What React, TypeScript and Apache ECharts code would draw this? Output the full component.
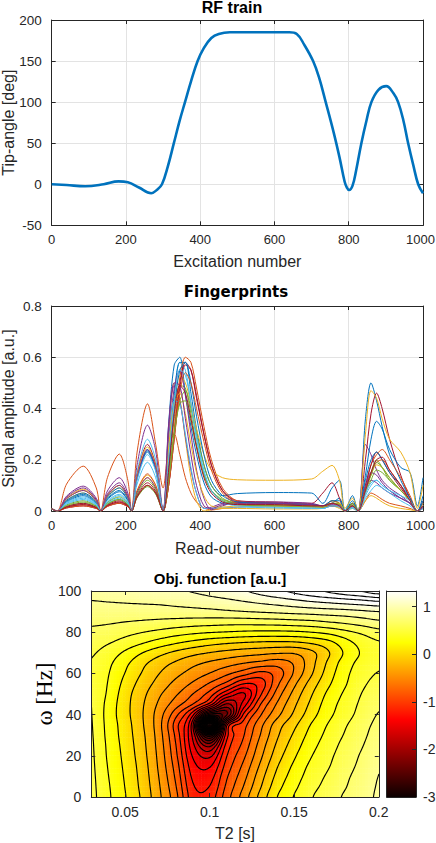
import React, { useEffect, useRef } from "react";
import * as echarts from "echarts";

const FONT = "'Liberation Sans', Arial, Helvetica, sans-serif";
const TXT = "#262626";
const MATLAB_COLORS = ["#0072BD", "#D95319", "#EDB120", "#7E2F8E", "#77AC30", "#4DBEEE", "#A2142F"];

// ---------------- Panel 1: RF train ----------------
const RF_X = [0, 40, 90, 140, 180, 205, 235, 268, 283, 297, 313, 329, 345, 359, 375, 393, 410, 430, 450, 480, 560, 640, 660, 680, 704, 720, 738, 760, 775, 789, 795, 801, 810, 820, 834, 848, 861, 880, 901, 920, 933, 947, 960, 974, 987, 1000];
const RF_Y = [0, -1, -2.5, 0, 3.5, 2.5, -4, -11, -7, 0, 22, 50, 78, 100, 125, 150, 166, 178, 183, 185, 185, 185, 183, 170, 150, 130, 100, 62, 33, 3, -4, -7, -2, 17, 50, 78, 100, 115, 119.5, 111, 100, 78, 50, 23, 0, -11];

// ---------------- Panel 2: Fingerprints ----------------
const FP_X = [0, 15, 40, 85, 120, 132, 150, 182, 205, 215, 230, 258, 280, 300, 315, 330, 345, 360, 375, 390, 410, 430, 460, 500, 600, 700, 730, 755, 775, 790, 810, 825, 845, 860, 875, 890, 910, 940, 965, 985, 1000];
const FP_01 = [0.008, 0, 0.036, 0.06, 0.03, 0, 0.045, 0.075, 0.041, 0, 0.13, 0.235, 0.165, 0, 0.34, 0.57, 0.6, 0.46, 0.33, 0.22, 0.11, 0.055, 0.03, 0.025, 0.02, 0.015, 0.01, 0.03, 0.05, 0, 0.03, 0, 0.36, 0.5, 0.43, 0.33, 0.22, 0.12, 0.05, 0, 0.06];
const FP_02 = [0.01, 0, 0.105, 0.175, 0.09, 0, 0.13, 0.222, 0.12, 0, 0.23, 0.418, 0.26, 0.09, 0.25, 0.3, 0.22, 0.13, 0.07, 0.035, 0.012, 0.004, 0.01, 0.015, 0.02, 0.02, 0.015, 0.02, 0.015, 0, 0.02, 0, 0.04, 0.07, 0.06, 0.045, 0.03, 0.02, 0.01, 0, 0.02];
const FP_03 = [0.008, 0, 0.05, 0.085, 0.043, 0, 0.06, 0.1, 0.055, 0, 0.077, 0.14, 0.1, 0, 0.3, 0.5, 0.44, 0.28, 0.13, 0.04, 0, 0.005, 0.01, 0.01, 0.008, 0.008, 0.01, 0.02, 0.01, 0, 0.01, 0, 0.04, 0.06, 0.05, 0.035, 0.02, 0.01, 0.005, 0, 0.01];
const FP_04 = [0.01, 0, 0.058, 0.097, 0.05, 0, 0.078, 0.13, 0.07, 0, 0.18, 0.335, 0.235, 0, 0.34, 0.49, 0.43, 0.29, 0.16, 0.07, 0.01, 0.015, 0.03, 0.035, 0.03, 0.02, 0.015, 0.02, 0.02, 0, 0.015, 0, 0.26, 0.22, 0.16, 0.12, 0.09, 0.06, 0.03, 0, 0.02];
const FP_05 = [0.008, 0, 0.018, 0.03, 0.015, 0, 0.027, 0.045, 0.025, 0, 0.055, 0.1, 0.07, 0, 0.15, 0.36, 0.49, 0.48, 0.38, 0.26, 0.14, 0.08, 0.045, 0.03, 0.025, 0.02, 0.015, 0.04, 0.03, 0, 0.03, 0, 0.08, 0.15, 0.2, 0.17, 0.12, 0.08, 0.04, 0, 0.03];
const FP_06 = [0.008, 0, 0.03, 0.05, 0.025, 0, 0.036, 0.06, 0.033, 0, 0.155, 0.28, 0.2, 0, 0.2, 0.45, 0.58, 0.55, 0.42, 0.28, 0.15, 0.08, 0.04, 0.025, 0.02, 0.02, 0.01, 0.02, 0.02, 0, 0.02, 0, 0.06, 0.1, 0.12, 0.1, 0.08, 0.05, 0.03, 0, 0.02];
const FP_07 = [0.008, 0, 0.012, 0.02, 0.01, 0, 0.018, 0.03, 0.017, 0, 0.143, 0.26, 0.18, 0, 0.1, 0.3, 0.5, 0.58, 0.55, 0.44, 0.3, 0.18, 0.08, 0.04, 0.035, 0.03, 0.07, 0.11, 0.05, 0, 0.03, 0, 0.2, 0.38, 0.46, 0.4, 0.28, 0.14, 0.05, 0, 0.04];
const FP_08 = [0.008, 0, 0.039, 0.065, 0.033, 0, 0.048, 0.08, 0.044, 0, 0.13, 0.24, 0.17, 0, 0.22, 0.45, 0.58, 0.58, 0.46, 0.32, 0.18, 0.1, 0.06, 0.068, 0.072, 0.07, 0.03, 0.09, 0.12, 0, 0.06, 0, 0.14, 0.28, 0.35, 0.32, 0.24, 0.17, 0.15, 0.02, 0.13];
const FP_09 = [0.008, 0, 0.015, 0.025, 0.013, 0, 0.021, 0.035, 0.02, 0, 0.08, 0.145, 0.1, 0, 0.12, 0.32, 0.52, 0.6, 0.58, 0.48, 0.33, 0.2, 0.09, 0.04, 0.03, 0.025, 0.02, 0.04, 0.03, 0, 0.02, 0, 0.1, 0.18, 0.22, 0.24, 0.2, 0.13, 0.06, 0, 0.03];
const FP_10 = [0.008, 0, 0.042, 0.07, 0.036, 0, 0.054, 0.09, 0.05, 0, 0.072, 0.13, 0.09, 0, 0.2, 0.42, 0.53, 0.5, 0.42, 0.32, 0.22, 0.16, 0.13, 0.122, 0.12, 0.125, 0.155, 0.178, 0.12, 0.01, 0.05, 0, 0.3, 0.47, 0.44, 0.36, 0.28, 0.23, 0.15, 0.01, 0.1];
const FP_11 = [0.008, 0, 0.054, 0.09, 0.045, 0, 0.066, 0.11, 0.06, 0, 0.072, 0.13, 0.09, 0, 0.28, 0.48, 0.55, 0.45, 0.3, 0.16, 0.05, 0.005, 0.02, 0.035, 0.035, 0.03, 0.02, 0.03, 0.025, 0, 0.02, 0, 0.08, 0.12, 0.11, 0.09, 0.07, 0.05, 0.03, 0, 0.01];
const FP_12 = [0.008, 0, 0.024, 0.04, 0.02, 0, 0.033, 0.055, 0.03, 0, 0.066, 0.12, 0.084, 0, 0.12, 0.3, 0.43, 0.47, 0.4, 0.3, 0.18, 0.1, 0.05, 0.03, 0.02, 0.018, 0.015, 0.03, 0.03, 0, 0.03, 0, 0.07, 0.12, 0.16, 0.15, 0.12, 0.08, 0.04, 0, 0.02];
const FP_13 = [0.008, 0, 0.027, 0.045, 0.023, 0, 0.03, 0.05, 0.028, 0, 0.105, 0.19, 0.13, 0, 0.25, 0.43, 0.42, 0.3, 0.17, 0.07, 0.01, 0.01, 0.015, 0.015, 0.012, 0.01, 0.01, 0.02, 0.015, 0, 0.01, 0, 0.05, 0.08, 0.1, 0.09, 0.07, 0.04, 0.02, 0, 0.01];
const FP_14 = [0.008, 0, 0.018, 0.03, 0.015, 0, 0.024, 0.04, 0.022, 0, 0.06, 0.11, 0.077, 0, 0.1, 0.28, 0.48, 0.57, 0.55, 0.45, 0.3, 0.18, 0.08, 0.035, 0.03, 0.025, 0.02, 0.03, 0.02, 0, 0.02, 0, 0.1, 0.18, 0.23, 0.2, 0.15, 0.09, 0.04, 0, 0.02];
const FP_15 = [0.008, 0, 0.042, 0.07, 0.036, 0, 0.054, 0.09, 0.05, 0, 0.126, 0.23, 0.16, 0, 0.18, 0.4, 0.55, 0.58, 0.5, 0.37, 0.22, 0.12, 0.06, 0.035, 0.03, 0.025, 0.02, 0.04, 0.04, 0, 0.04, 0, 0.12, 0.2, 0.23, 0.2, 0.15, 0.1, 0.05, 0, 0.04];
const FP_16 = [0.008, 0, 0.012, 0.02, 0.01, 0, 0.018, 0.03, 0.017, 0, 0.055, 0.1, 0.07, 0, 0.1, 0.28, 0.46, 0.54, 0.5, 0.4, 0.27, 0.16, 0.07, 0.03, 0.02, 0.02, 0.015, 0.02, 0.02, 0, 0.02, 0, 0.09, 0.15, 0.19, 0.2, 0.16, 0.1, 0.04, 0, 0.02];
const FP_17 = [0.008, 0, 0.048, 0.08, 0.04, 0, 0.06, 0.1, 0.055, 0, 0.138, 0.25, 0.175, 0, 0.25, 0.42, 0.46, 0.38, 0.26, 0.15, 0.06, 0.02, 0.015, 0.02, 0.018, 0.015, 0.015, 0.03, 0.03, 0, 0.02, 0, 0.08, 0.14, 0.18, 0.17, 0.13, 0.08, 0.04, 0, 0.02];
const FP_18 = [0.008, 0, 0.048, 0.08, 0.04, 0, 0.06, 0.1, 0.055, 0, 0.132, 0.24, 0.17, 0, 0.32, 0.5, 0.49, 0.36, 0.22, 0.1, 0.02, 0.01, 0.025, 0.03, 0.03, 0.025, 0.02, 0.025, 0.02, 0, 0.02, 0, 0.09, 0.15, 0.14, 0.11, 0.08, 0.05, 0.03, 0, 0.015];
const FP_19 = [0.008, 0, 0.021, 0.035, 0.018, 0, 0.027, 0.045, 0.025, 0, 0.052, 0.095, 0.066, 0, 0.12, 0.3, 0.42, 0.43, 0.35, 0.25, 0.14, 0.08, 0.04, 0.025, 0.02, 0.018, 0.015, 0.03, 0.025, 0, 0.025, 0, 0.08, 0.14, 0.19, 0.17, 0.13, 0.08, 0.04, 0, 0.02];
const FP_20 = [0.008, 0, 0.033, 0.055, 0.028, 0, 0.04, 0.065, 0.036, 0, 0.12, 0.22, 0.155, 0, 0.2, 0.42, 0.55, 0.53, 0.42, 0.29, 0.16, 0.08, 0.035, 0.02, 0.015, 0.012, 0.01, 0.02, 0.02, 0, 0.015, 0, 0.07, 0.11, 0.12, 0.1, 0.08, 0.06, 0.04, 0, 0.02];
const FP_21 = [0.008, 0, 0.015, 0.025, 0.013, 0, 0.021, 0.035, 0.02, 0, 0.055, 0.1, 0.07, 0, 0.16, 0.38, 0.49, 0.46, 0.36, 0.25, 0.13, 0.07, 0.035, 0.025, 0.025, 0.02, 0.02, 0.03, 0.02, 0, 0.02, 0, 0.08, 0.15, 0.2, 0.21, 0.16, 0.1, 0.04, 0, 0.02];
const FINGERPRINTS = [FP_01, FP_02, FP_03, FP_04, FP_05, FP_06, FP_07, FP_08, FP_09, FP_10, FP_11, FP_12, FP_13, FP_14, FP_15, FP_16, FP_17, FP_18, FP_19, FP_20, FP_21];

// ---------------- Panel 3: objective function ----------------
const T2_VALUES = [0.03, 0.04, 0.05, 0.06, 0.07, 0.08, 0.09, 0.1, 0.11, 0.12, 0.13, 0.14, 0.15, 0.16, 0.17, 0.18, 0.19, 0.2];
const OMEGA_VALUES = [0, 5, 10, 15, 20, 25, 30, 35, 40, 45, 50, 55, 60, 65, 70, 75, 80, 85, 90, 95, 100];
const OBJ_W000 = [0.57, 0.38, 0.185, -0.03, -0.31, -0.645, -1.15, -1.15, -0.78, -0.45, -0.12, 0.175, 0.36, 0.51, 0.62, 0.72, 0.8, 0.9];
const OBJ_W005 = [0.565, 0.37, 0.17, -0.05, -0.33, -0.69, -1.2, -1.22, -0.84, -0.52, -0.19, 0.11, 0.31, 0.47, 0.58, 0.69, 0.78, 0.89];
const OBJ_W010 = [0.56, 0.355, 0.155, -0.065, -0.355, -0.735, -1.26, -1.3, -0.9, -0.59, -0.25, 0.05, 0.26, 0.43, 0.55, 0.67, 0.76, 0.878];
const OBJ_W015 = [0.555, 0.34, 0.14, -0.08, -0.38, -0.78, -1.33, -1.42, -0.98, -0.66, -0.32, -0.01, 0.21, 0.39, 0.51, 0.64, 0.74, 0.86];
const OBJ_W020 = [0.55, 0.325, 0.125, -0.1, -0.4, -0.83, -1.42, -1.62, -1.06, -0.74, -0.39, -0.08, 0.15, 0.34, 0.48, 0.61, 0.72, 0.83];
const OBJ_W025 = [0.545, 0.315, 0.11, -0.115, -0.42, -0.87, -1.52, -1.98, -1.16, -0.82, -0.45, -0.14, 0.09, 0.29, 0.44, 0.58, 0.69, 0.8];
const OBJ_W030 = [0.54, 0.3, 0.095, -0.13, -0.44, -0.92, -1.62, -2.75, -1.3, -0.89, -0.52, -0.2, 0.03, 0.24, 0.4, 0.54, 0.66, 0.77];
const OBJ_W035 = [0.535, 0.29, 0.085, -0.15, -0.46, -0.97, -1.7, -4.2, -1.45, -0.96, -0.58, -0.26, -0.04, 0.185, 0.36, 0.505, 0.635, 0.74];
const OBJ_W040 = [0.53, 0.28, 0.065, -0.16, -0.44, -0.82, -1.35, -2.5, -2.3, -1.2, -0.72, -0.4, -0.14, 0.1, 0.3, 0.45, 0.59, 0.71];
const OBJ_W045 = [0.525, 0.29, 0.065, -0.15, -0.38, -0.62, -0.88, -1.3, -1.95, -1.5, -0.88, -0.5, -0.21, 0.04, 0.26, 0.42, 0.56, 0.67];
const OBJ_W050 = [0.515, 0.32, 0.08, -0.12, -0.32, -0.5, -0.7, -0.95, -1.38, -1.6, -1.08, -0.62, -0.29, -0.02, 0.21, 0.38, 0.53, 0.625];
const OBJ_W055 = [0.505, 0.34, 0.12, -0.07, -0.24, -0.4, -0.55, -0.72, -0.93, -1.22, -1.15, -0.74, -0.39, -0.1, 0.14, 0.33, 0.49, 0.58];
const OBJ_W060 = [0.505, 0.36, 0.17, -0.01, -0.17, -0.3, -0.42, -0.53, -0.66, -0.8, -0.93, -0.8, -0.5, -0.2, 0.08, 0.3, 0.45, 0.535];
const OBJ_W065 = [0.515, 0.39, 0.22, 0.05, -0.09, -0.2, -0.3, -0.38, -0.45, -0.52, -0.58, -0.62, -0.5, -0.24, 0.03, 0.26, 0.41, 0.49];
const OBJ_W070 = [0.545, 0.45, 0.32, 0.18, 0.06, -0.04, -0.12, -0.18, -0.23, -0.27, -0.3, -0.33, -0.33, -0.22, -0.02, 0.2, 0.37, 0.47];
const OBJ_W075 = [0.6, 0.54, 0.46, 0.37, 0.28, 0.2, 0.13, 0.07, 0.03, 0.0, -0.02, -0.03, -0.02, 0.03, 0.12, 0.28, 0.42, 0.51];
const OBJ_W080 = [0.66, 0.63, 0.58, 0.53, 0.48, 0.43, 0.39, 0.36, 0.34, 0.32, 0.31, 0.31, 0.32, 0.35, 0.4, 0.48, 0.56, 0.64];
const OBJ_W085 = [0.73, 0.72, 0.7, 0.68, 0.66, 0.64, 0.62, 0.61, 0.6, 0.6, 0.61, 0.62, 0.64, 0.66, 0.7, 0.74, 0.79, 0.84];
const OBJ_W090 = [0.8, 0.8, 0.8, 0.8, 0.8, 0.81, 0.82, 0.83, 0.85, 0.87, 0.89, 0.91, 0.93, 0.95, 0.97, 0.99, 1.02, 1.05];
const OBJ_W095 = [0.87, 0.88, 0.89, 0.9, 0.91, 0.93, 0.95, 0.98, 1.01, 1.05, 1.09, 1.13, 1.18, 1.23, 1.27, 1.31, 1.35, 1.4];
const OBJ_W100 = [0.93, 0.95, 0.97, 0.99, 1.01, 1.03, 1.06, 1.1, 1.15, 1.21, 1.28, 1.36, 1.44, 1.52, 1.6, 1.68, 1.76, 1.85];
const OBJ_ROWS = [OBJ_W000, OBJ_W005, OBJ_W010, OBJ_W015, OBJ_W020, OBJ_W025, OBJ_W030, OBJ_W035, OBJ_W040, OBJ_W045, OBJ_W050, OBJ_W055, OBJ_W060, OBJ_W065, OBJ_W070, OBJ_W075, OBJ_W080, OBJ_W085, OBJ_W090, OBJ_W095, OBJ_W100];

const T2_TICKS = [0.05, 0.1, 0.15, 0.2];
const CBAR_TICKS = [-3, -2, -1, 0, 1];
const CMIN = -3;
const CMAX = 1.33;
const CONTOUR_STEP = 0.175;
const CONTOUR_K_MIN = -23;
const CONTOUR_K_MAX = 10;

// ---------------- helpers ----------------
const NC = T2_VALUES.length;
const NR = OMEGA_VALUES.length;

function hotColor(v: number): string {
  let f = (v - CMIN) / (CMAX - CMIN);
  f = Math.max(0, Math.min(1, f));
  const r = f < 0.375 ? 0.0417 + (1 - 0.0417) * (f / 0.375) : 1;
  const g = f < 0.375 ? 0 : f < 0.75 ? (f - 0.375) / 0.375 : 1;
  const b = f < 0.75 ? 0 : (f - 0.75) / 0.25;
  return `rgb(${Math.round(r * 255)},${Math.round(g * 255)},${Math.round(b * 255)})`;
}

function cr(p0: number, p1: number, p2: number, p3: number, t: number) {
  const t2 = t * t, t3 = t2 * t;
  return 0.5 * (2 * p1 + (p2 - p0) * t + (2 * p0 - 5 * p1 + 4 * p2 - p3) * t2 + (3 * p1 - p0 - 3 * p2 + p3) * t3);
}

function fieldAt(gx: number, gy: number) {
  const i = Math.max(0, Math.min(NC - 2, Math.floor(gx)));
  const tx = gx - i;
  const j = Math.max(0, Math.min(NR - 2, Math.floor(gy)));
  const ty = gy - j;
  const ci = (k: number) => Math.max(0, Math.min(NC - 1, k));
  const cj = (k: number) => Math.max(0, Math.min(NR - 1, k));
  const col: number[] = [];
  for (let m = -1; m <= 2; m++) {
    const row = OBJ_ROWS[cj(j + m)];
    col.push(cr(row[ci(i - 1)], row[i], row[i + 1], row[ci(i + 2)], tx));
  }
  return cr(col[0], col[1], col[2], col[3], ty);
}

const FX = 8;
const FY = 6;
let FINE: number[][] | null = null;
function getFine() {
  if (!FINE) {
    FINE = [];
    const nx = (NC - 1) * FX + 1;
    const ny = (NR - 1) * FY + 1;
    for (let r = 0; r < ny; r++) {
      const row: number[] = [];
      for (let c = 0; c < nx; c++) row.push(fieldAt(c / FX, r / FY));
      FINE.push(row);
    }
  }
  return FINE;
}

function contourPath(level: number, toPx: (p: number[]) => number[]) {
  const F = getFine();
  const ny = F.length, nx = F[0].length;
  const parts: string[] = [];
  for (let r = 0; r < ny - 1; r++) {
    for (let c = 0; c < nx - 1; c++) {
      const v00 = F[r][c], v10 = F[r][c + 1], v11 = F[r + 1][c + 1], v01 = F[r + 1][c];
      let idx = 0;
      if (v00 > level) idx |= 1;
      if (v10 > level) idx |= 2;
      if (v11 > level) idx |= 4;
      if (v01 > level) idx |= 8;
      if (idx === 0 || idx === 15) continue;
      const B = () => [c + (level - v00) / (v10 - v00), r];
      const R = () => [c + 1, r + (level - v10) / (v11 - v10)];
      const T = () => [c + (level - v01) / (v11 - v01), r + 1];
      const L = () => [c, r + (level - v00) / (v01 - v00)];
      let segs: number[][][] = [];
      const ctr = (v00 + v10 + v11 + v01) / 4;
      switch (idx) {
        case 1: case 14: segs = [[L(), B()]]; break;
        case 2: case 13: segs = [[B(), R()]]; break;
        case 3: case 12: segs = [[L(), R()]]; break;
        case 4: case 11: segs = [[R(), T()]]; break;
        case 6: case 9: segs = [[B(), T()]]; break;
        case 7: case 8: segs = [[L(), T()]]; break;
        case 5: segs = ctr > level ? [[L(), T()], [B(), R()]] : [[L(), B()], [R(), T()]]; break;
        case 10: segs = ctr > level ? [[L(), B()], [R(), T()]] : [[L(), T()], [B(), R()]]; break;
      }
      for (const s of segs) {
        const a = toPx(s[0]);
        const b = toPx(s[1]);
        parts.push(`M${a[0].toFixed(2)} ${a[1].toFixed(2)}L${b[0].toFixed(2)} ${b[1].toFixed(2)}`);
      }
    }
  }
  return parts.join("");
}

const fmt = (v: number) => String(Math.round(v * 1000) / 1000);
const fmtX = (v: number) => (v === 1000 ? "{r|1000}" : fmt(v));

function axisBase(extra: any) {
  return {
    type: "value",
    nameMoveOverlap: false,
    axisLine: { show: true, onZero: false, lineStyle: { color: TXT, width: 1 } },
    axisTick: { show: true, inside: true, length: 4, lineStyle: { color: TXT, width: 1 } },
    axisLabel: { show: true, color: TXT, fontFamily: FONT, fontSize: 13, formatter: fmt },
    splitLine: { show: false },
    ...extra,
  };
}

const NAME_STYLE = { color: TXT, fontFamily: FONT, fontSize: 16 };
const GRID_LINE = { show: true, lineStyle: { color: "#E3E3E3", width: 1 } };
const XLABEL = {
  color: TXT,
  fontFamily: FONT,
  fontSize: 13,
  margin: 8,
  formatter: fmtX,
  rich: { r: { color: TXT, fontFamily: FONT, fontSize: 13, padding: [0, 5, 0, 0] } },
};

function buildOption() {
  const cells: number[][] = [];
  for (let j = 0; j < NR - 1; j++)
    for (let i = 0; i < NC - 1; i++) cells.push([T2_VALUES[i], OMEGA_VALUES[j], i, j]);
  const levels: number[][] = [];
  for (let k = CONTOUR_K_MIN; k <= CONTOUR_K_MAX; k++) levels.push([T2_VALUES[0], OMEGA_VALUES[0], k * CONTOUR_STEP]);

  const SUBX = 6, SUBY = 4;

  const fpSeries = FINGERPRINTS.map((arr, s) => ({
    type: "line",
    xAxisIndex: 2,
    yAxisIndex: 2,
    data: FP_X.map((x, i) => [x, arr[i]]),
    smooth: 0.3,
    showSymbol: false,
    silent: true,
    lineStyle: { width: 1, color: MATLAB_COLORS[s % 7] },
    itemStyle: { color: MATLAB_COLORS[s % 7] },
  }));

  return {
    animation: false,
    backgroundColor: "#ffffff",
    title: [
      { text: "RF train", left: 232, top: -1, textAlign: "center", padding: 0, textStyle: { fontFamily: FONT, fontWeight: "bold", fontSize: 16, color: "#000" } },
      { text: "Fingerprints", left: 236, top: 284, textAlign: "center", padding: 0, textStyle: { fontFamily: "'DejaVu Sans', sans-serif", fontWeight: "bold", fontSize: 15, color: "#000" } },
      { text: "Obj. function [a.u.]", left: 220, top: 571, textAlign: "center", padding: 0, textStyle: { fontFamily: FONT, fontWeight: "bold", fontSize: 15, color: "#000" } },
    ],
    grid: [
      { left: 51.7, top: 20, width: 371.3, height: 205.3, containLabel: false, outerBoundsMode: "none" },
      { left: 51.7, top: 306, width: 371.3, height: 205, containLabel: false, outerBoundsMode: "none" },
      { left: 91.3, top: 591, width: 287.5, height: 206, containLabel: false, outerBoundsMode: "none" },
      { left: 386.7, top: 591, width: 29.3, height: 206, containLabel: false, outerBoundsMode: "none" },
    ],
    xAxis: [
      axisBase({ gridIndex: 0, position: "bottom", min: 0, max: 1000, interval: 200, splitLine: GRID_LINE, axisLabel: XLABEL, name: "Excitation number", nameLocation: "middle", nameGap: 28, nameTextStyle: NAME_STYLE }),
      axisBase({ gridIndex: 0, position: "top", min: 0, max: 1000, interval: 200, axisLabel: { show: false } }),
      axisBase({ gridIndex: 1, position: "bottom", min: 0, max: 1000, interval: 200, splitLine: GRID_LINE, axisLabel: XLABEL, name: "Read-out number", nameLocation: "middle", nameGap: 29, nameTextStyle: NAME_STYLE }),
      axisBase({ gridIndex: 1, position: "top", min: 0, max: 1000, interval: 200, axisLabel: { show: false } }),
      axisBase({ gridIndex: 2, position: "bottom", min: 0.03, max: 0.2, z: 5, axisTick: { show: true, inside: true, length: 4, customValues: T2_TICKS, lineStyle: { color: TXT } }, axisLabel: { color: TXT, fontFamily: FONT, fontSize: 14, margin: 8, customValues: T2_TICKS, formatter: fmt }, name: "T2 [s]", nameLocation: "middle", nameGap: 28, nameTextStyle: NAME_STYLE }),
      axisBase({ gridIndex: 2, position: "top", min: 0.03, max: 0.2, z: 5, axisTick: { show: true, inside: true, length: 4, customValues: T2_TICKS, lineStyle: { color: TXT } }, axisLabel: { show: false } }),
      axisBase({ gridIndex: 3, position: "bottom", min: 0, max: 1, z: 5, axisTick: { show: false }, axisLabel: { show: false } }),
      axisBase({ gridIndex: 3, position: "top", min: 0, max: 1, z: 5, axisTick: { show: false }, axisLabel: { show: false } }),
    ],
    yAxis: [
      axisBase({ gridIndex: 0, position: "left", min: -50, max: 200, interval: 50, splitLine: GRID_LINE, axisLabel: { color: TXT, fontFamily: FONT, fontSize: 13.5, margin: 10, formatter: fmt }, name: "Tip-angle [deg]", nameLocation: "middle", nameRotate: 90, nameGap: 35, nameTextStyle: NAME_STYLE }),
      axisBase({ gridIndex: 0, position: "right", min: -50, max: 200, interval: 50, axisLabel: { show: false } }),
      axisBase({ gridIndex: 1, position: "left", min: 0, max: 0.8, interval: 0.2, splitLine: GRID_LINE, axisLabel: { color: TXT, fontFamily: FONT, fontSize: 13.5, margin: 10, formatter: fmt }, name: "Signal amplitude [a.u.]", nameLocation: "middle", nameRotate: 90, nameGap: 35, nameTextStyle: NAME_STYLE }),
      axisBase({ gridIndex: 1, position: "right", min: 0, max: 0.8, interval: 0.2, axisLabel: { show: false } }),
      axisBase({ gridIndex: 2, position: "left", min: 0, max: 100, interval: 20, z: 5, axisLabel: { color: TXT, fontFamily: FONT, fontSize: 14, margin: 10, formatter: fmt }, name: "ω [Hz]", nameLocation: "middle", nameRotate: 90, nameGap: 35, nameTextStyle: { color: "#000", fontFamily: "'Liberation Serif', 'DejaVu Serif', serif", fontSize: 23 } }),
      axisBase({ gridIndex: 2, position: "right", min: 0, max: 100, interval: 20, z: 5, axisLabel: { show: false } }),
      axisBase({ gridIndex: 3, position: "right", min: CMIN, max: CMAX, z: 5, axisTick: { show: true, inside: true, length: 4, customValues: CBAR_TICKS, lineStyle: { color: TXT } }, axisLabel: { color: TXT, fontFamily: FONT, fontSize: 14, margin: 7, customValues: CBAR_TICKS, formatter: fmt } }),
      axisBase({ gridIndex: 3, position: "left", min: CMIN, max: CMAX, z: 5, axisTick: { show: false }, axisLabel: { show: false } }),
    ],
    series: [
      {
        type: "line",
        xAxisIndex: 0,
        yAxisIndex: 0,
        data: RF_X.map((x, i) => [x, RF_Y[i]]),
        smooth: 0.4,
        showSymbol: false,
        silent: true,
        lineStyle: { width: 2.6, color: "#0072BD" },
        itemStyle: { color: "#0072BD" },
      },
      ...fpSeries,
      {
        type: "custom",
        xAxisIndex: 4,
        yAxisIndex: 4,
        silent: true,
        clip: true,
        z: 1,
        data: cells,
        encode: { x: 0, y: 1 },
        renderItem: (params: any, api: any) => {
          const i = api.value(2);
          const j = api.value(3);
          const a = api.coord([T2_VALUES[i], OMEGA_VALUES[j]]);
          const b = api.coord([T2_VALUES[i + 1], OMEGA_VALUES[j + 1]]);
          const w = (b[0] - a[0]) / SUBX;
          const h = (a[1] - b[1]) / SUBY;
          const children: any[] = [];
          for (let sy = 0; sy < SUBY; sy++) {
            for (let sx = 0; sx < SUBX; sx++) {
              const v = fieldAt(i + (sx + 0.5) / SUBX, j + (sy + 0.5) / SUBY);
              children.push({
                type: "rect",
                shape: { x: a[0] + sx * w, y: a[1] - (sy + 1) * h - 0.5, width: w + 0.5, height: h + 0.5 },
                style: { fill: hotColor(v) },
              });
            }
          }
          return { type: "group", children };
        },
      },
      {
        type: "custom",
        xAxisIndex: 4,
        yAxisIndex: 4,
        silent: true,
        clip: true,
        z: 3,
        data: levels,
        encode: { x: 0, y: 1 },
        renderItem: (params: any, api: any) => {
          const level = api.value(2);
          const p0 = api.coord([T2_VALUES[0], OMEGA_VALUES[0]]);
          const p1 = api.coord([T2_VALUES[NC - 1], OMEGA_VALUES[NR - 1]]);
          const nx = (NC - 1) * FX, ny = (NR - 1) * FY;
          const toPx = (p: number[]) => [p0[0] + (p[0] / nx) * (p1[0] - p0[0]), p0[1] + (p[1] / ny) * (p1[1] - p0[1])];
          const d = contourPath(level, toPx);
          if (!d) return null;
          return {
            type: "path",
            shape: { pathData: d },
            style: { stroke: "#000000", lineWidth: 1.15, fill: "none", lineCap: "round", lineJoin: "round" },
          };
        },
      },
      {
        type: "custom",
        xAxisIndex: 6,
        yAxisIndex: 6,
        silent: true,
        clip: false,
        z: 1,
        data: [[0, CMIN]],
        encode: { x: 0, y: 1 },
        renderItem: (params: any, api: any) => {
          const a = api.coord([0, CMIN]);
          const b = api.coord([1, CMAX]);
          return {
            type: "rect",
            shape: { x: a[0], y: b[1], width: b[0] - a[0], height: a[1] - b[1] },
            style: {
              fill: new echarts.graphic.LinearGradient(0, 1, 0, 0, [
                { offset: 0, color: "#0b0000" },
                { offset: 0.375, color: "#ff0000" },
                { offset: 0.75, color: "#ffff00" },
                { offset: 1, color: "#ffffff" },
              ]),
            },
          };
        },
      },
    ],
  };
}

export default function App() {
  const ref = useRef<HTMLDivElement>(null);
  useEffect(() => {
    if (!ref.current) return;
    const chart = echarts.init(ref.current, null, { renderer: "svg" });
    chart.setOption(buildOption() as any);
    return () => chart.dispose();
  }, []);
  return (
    <div
      ref={ref}
      style={{ position: "absolute", left: 0, top: 0, width: 436, height: 843, background: "#fff" }}
    />
  );
}
